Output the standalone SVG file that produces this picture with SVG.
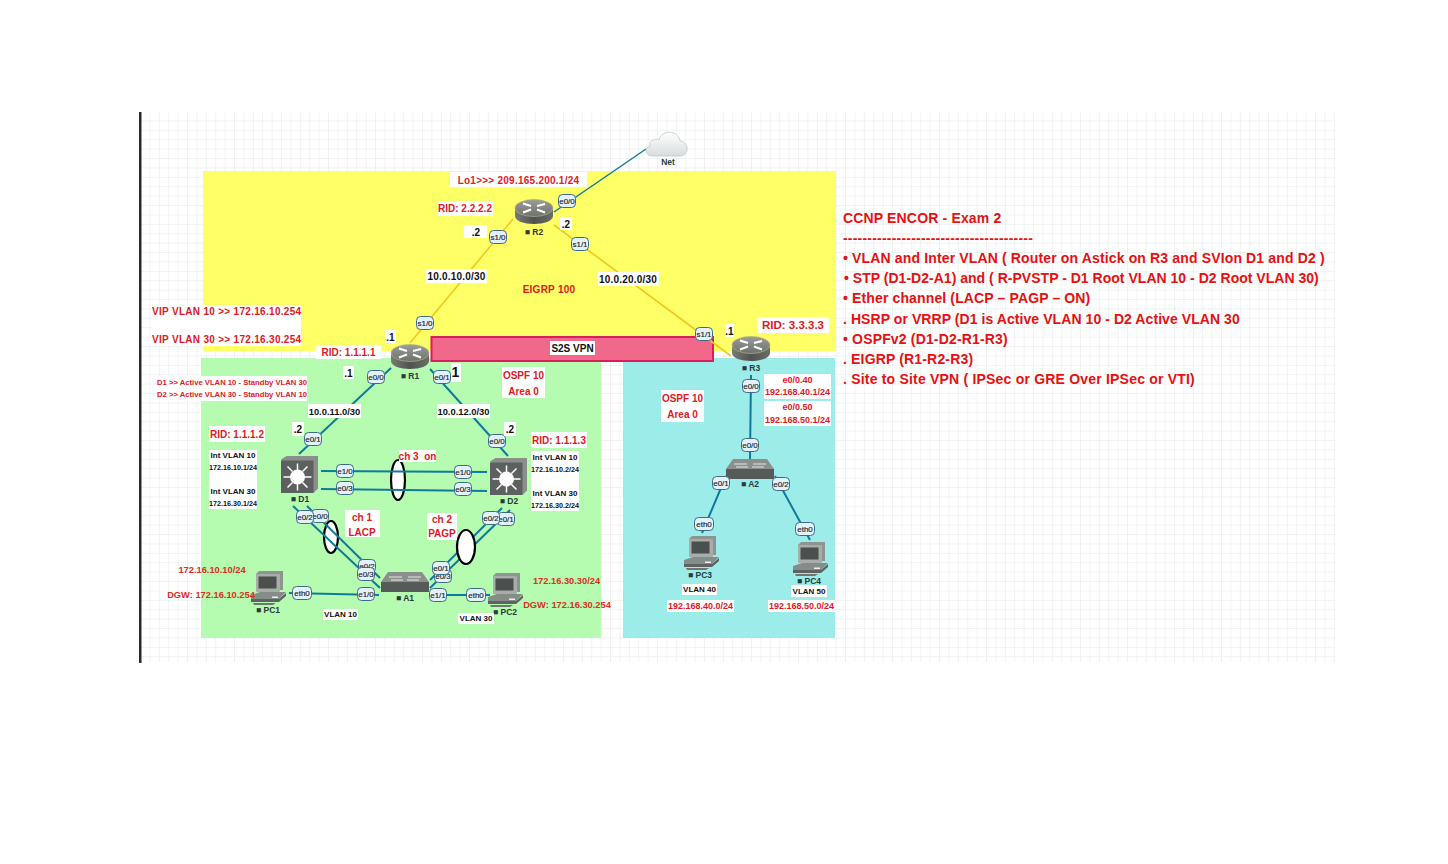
<svg xmlns="http://www.w3.org/2000/svg" width="1448" height="864" viewBox="0 0 1448 864">
<style>
text{font-family:"Liberation Sans",Arial,sans-serif;font-weight:700}
.r{fill:#e3171f;font-size:10px;text-anchor:middle;dominant-baseline:central}
.rs{letter-spacing:.25px}
.rl{fill:#e3171f;font-size:10px;dominant-baseline:central;letter-spacing:.3px}
.o{font-size:9.300px;fill:#dc2e22}
.m{font-size:9px}
.k{fill:#111;font-size:10px;text-anchor:middle;dominant-baseline:central}
.s{fill:#111;font-size:8px;text-anchor:middle;dominant-baseline:central}
.w{fill:#fff}
.t{fill:#e81010;font-size:14px;letter-spacing:.16px}
.n{fill:#2b3a3a;font-size:8.500px;text-anchor:middle;dominant-baseline:central}
.p{fill:#e2f1fb;stroke:#3d6b85;stroke-width:1}
.pt{fill:#222;font-size:8px;text-anchor:middle;dominant-baseline:central;font-weight:400;stroke:#222;stroke-width:.15}
.b{stroke:#0f7a9c;stroke-width:2;fill:none}
.y{stroke:#f2c81e;stroke-width:1.6;fill:none}
.ch{fill:#fff;stroke:#000;stroke-width:2.2}
</style>
<defs>
<pattern id="g" width="9.4" height="9.4" patternUnits="userSpaceOnUse" x="141" y="112"><path d="M9.4 0V9.4H0" fill="none" stroke="#e3e7e7" stroke-width="1"/></pattern>
<linearGradient id="rt" x1="0" y1="0" x2="0" y2="1"><stop offset="0" stop-color="#9a9d9a"/><stop offset="1" stop-color="#6d716e"/></linearGradient>
<linearGradient id="rb" x1="0" y1="0" x2="1" y2="0"><stop offset="0" stop-color="#777a77"/><stop offset=".5" stop-color="#4f5350"/><stop offset="1" stop-color="#6a6d6a"/></linearGradient>
<g id="router">
<path d="M-19-4V4C-19 9-10 12 0 12S19 9 19 4V-4Z" fill="url(#rb)"/>
<ellipse cx="0" cy="-4" rx="19" ry="8.500" fill="url(#rt)" stroke="#b9b27a" stroke-width=".7"/>
<path d="M-11-8.500L-3-6M11-8L3-6M-11 0.500L-3-2.500M11 0.500L3-2.500" stroke="#fff" stroke-width="2.200" fill="none"/>
</g>
<g id="l3">
<path d="M-18.500-15L-13-18.500H18.500V14L14 18.500Z" fill="#8b8f8c"/>
<rect x="-18.500" y="-14" width="32.500" height="32.500" fill="#5c605e"/>
<path d="M-2-4V-11M-2 9V16M-8 2.500H-16M4 2.500H12M-7-3L-12-8M3-3L8-8M-7 8L-12 13M3 8L8 13" stroke="#fff" stroke-width="1.500"/>
<circle cx="-2" cy="2.500" r="7.500" fill="#fff"/>
</g>
<g id="sw">
<path d="M-24 0L-17-10H17L24 0Z" fill="#8c908d"/>
<rect x="-24" y="0" width="48" height="10" fill="#565a58"/>
<path d="M-16-5H-3M3-5H16M-14-2H-2M2-2H14" stroke="#e4e6e4" stroke-width="1.200"/>
</g>
<g id="pc">
<path d="M-12-16L-9-19H15V0H-12Z" fill="#8e9491"/>
<rect x="-12" y="-16" width="24" height="18" rx="1" fill="#a8ada9"/>
<rect x="-9.500" y="-13.500" width="18" height="12" fill="#4b4f4d"/>
<path d="M-17 5L-8 2H18L11 9H-17Z" fill="#868c89"/>
<path d="M-17 9H11L18 3V6L11 12H-17Z" fill="#5e6361"/>
<rect x="4" y="6.500" width="6" height="1.500" fill="#eee"/>
<path d="M-15 13H8L5 15H-14Z" fill="#6f7572"/>
</g>
<linearGradient id="cl" x1="0" y1="0" x2="0" y2="1"><stop offset="0" stop-color="#fff"/><stop offset="1" stop-color="#d8dcdc"/></linearGradient>
</defs>

<rect x="141" y="112" width="1194" height="550" fill="url(#g)"/>
<rect x="139" y="112" width="2.500" height="551" fill="#2a2a2a"/>
<rect x="203" y="171" width="633" height="180" fill="#ffff66"/>
<rect x="201" y="358" width="400" height="280" fill="#b5fcb0"/>
<rect x="623" y="358" width="212" height="280" fill="#9cecea"/>
<rect x="431.500" y="337" width="281.500" height="24" fill="#f0688a" stroke="#d81e5b" stroke-width="2"/>

<ellipse class="ch" cx="398" cy="480" rx="7" ry="20"/>
<ellipse class="ch" cx="331" cy="537" rx="7" ry="16"/>

<g id="connectors">
<path class="b" d="M646 149L554 212" style="stroke-width:1.500"/>
<path class="y" d="M513 219L410 343"/>
<path class="y" d="M554 225L731 356"/>
<path class="b" d="M391 368L299 454"/>
<path class="b" d="M430 369L508 456"/>
<path class="b" d="M321 471L487 472"/>
<path class="b" d="M321 489L487 491"/>
<path class="b" d="M293 506L380 588"/>
<path class="b" d="M307 506L380 578"/>
<path class="b" d="M502 508L430 580"/>
<path class="b" d="M510 510L430 588"/>
<path class="b" d="M289 593L379 595"/>
<path class="b" d="M430 595L490 595"/>
<path class="b" d="M751 375L750 459"/>
<path class="b" d="M726 476L702 533"/>
<path class="b" d="M775 476L810 540"/>
</g>
<ellipse class="ch" cx="466" cy="547" rx="9" ry="17"/>

<g id="Net">
<path d="M652 156C645 156 644 148 650 146C648 141 655 138 659 140C661 130 678 129 680 141C689 141 690 156 680 156Z" fill="url(#cl)" stroke="#c3c8c8" stroke-width=".8"/>
<text class="n" x="668" y="162">Net</text>
</g>
<g id="R2"><use href="#router" x="534" y="212"/><text class="n" x="534" y="232">■ R2</text>
<g transform="translate(567 201)"><rect class="p" x="-8.500" y="-6.500" width="17" height="13" rx="4"/><text class="pt">e0/0</text></g>
<g transform="translate(498 237)"><rect class="p" x="-8.500" y="-6.500" width="17" height="13" rx="4"/><text class="pt">s1/0</text></g>
<g transform="translate(580 244)"><rect class="p" x="-8.500" y="-6.500" width="17" height="13" rx="4"/><text class="pt">s1/1</text></g>
</g>
<g id="R3"><use href="#router" x="751" y="349"/><text class="n" x="751" y="368">■ R3</text>
<g transform="translate(704 334)"><rect class="p" x="-8.500" y="-6.500" width="17" height="13" rx="4"/><text class="pt">s1/1</text></g>
<g transform="translate(751 386)"><rect class="p" x="-8.500" y="-6.500" width="17" height="13" rx="4"/><text class="pt">e0/0</text></g>
</g>
<g id="D1"><use href="#l3" x="299.500" y="474.500"/><text class="n" x="300" y="499">■ D1</text>
<g transform="translate(313 439)"><rect class="p" x="-8.500" y="-6.500" width="17" height="13" rx="4"/><text class="pt">e0/1</text></g>
<g transform="translate(345 471)"><rect class="p" x="-8.500" y="-6.500" width="17" height="13" rx="4"/><text class="pt">e1/0</text></g>
<g transform="translate(345 488)"><rect class="p" x="-8.500" y="-6.500" width="17" height="13" rx="4"/><text class="pt">e0/3</text></g>
<g transform="translate(320 516)"><rect class="p" x="-8.500" y="-6.500" width="17" height="13" rx="4"/><text class="pt">e0/0</text></g>
<g transform="translate(305 517)"><rect class="p" x="-8.500" y="-6.500" width="17" height="13" rx="4"/><text class="pt">e0/2</text></g>
</g>
<g id="D2"><use href="#l3" x="508.500" y="476.500"/><text class="n" x="509" y="501">■ D2</text>
<g transform="translate(497 441)"><rect class="p" x="-8.500" y="-6.500" width="17" height="13" rx="4"/><text class="pt">e0/0</text></g>
<g transform="translate(463 472)"><rect class="p" x="-8.500" y="-6.500" width="17" height="13" rx="4"/><text class="pt">e1/0</text></g>
<g transform="translate(463 489)"><rect class="p" x="-8.500" y="-6.500" width="17" height="13" rx="4"/><text class="pt">e0/3</text></g>
<g transform="translate(506 519)"><rect class="p" x="-8.500" y="-6.500" width="17" height="13" rx="4"/><text class="pt">e0/1</text></g>
<g transform="translate(491 518)"><rect class="p" x="-8.500" y="-6.500" width="17" height="13" rx="4"/><text class="pt">e0/2</text></g>
</g>
<g id="A1"><use href="#sw" x="405" y="582"/><text class="n" x="405" y="598">■ A1</text>
<g transform="translate(367 566)"><rect class="p" x="-8.500" y="-6.500" width="17" height="13" rx="4"/><text class="pt">e0/2</text></g>
<g transform="translate(366 574)"><rect class="p" x="-8.500" y="-6.500" width="17" height="13" rx="4"/><text class="pt">e0/3</text></g>
<g transform="translate(366 594)"><rect class="p" x="-8.500" y="-6.500" width="17" height="13" rx="4"/><text class="pt">e1/0</text></g>
<g transform="translate(443 576)"><rect class="p" x="-8.500" y="-6.500" width="17" height="13" rx="4"/><text class="pt">e0/3</text></g>
<g transform="translate(441 568)"><rect class="p" x="-8.500" y="-6.500" width="17" height="13" rx="4"/><text class="pt">e0/1</text></g>
<g transform="translate(438 595)"><rect class="p" x="-8.500" y="-6.500" width="17" height="13" rx="4"/><text class="pt">e1/1</text></g>
</g>
<g id="A2"><use href="#sw" x="750" y="469"/><text class="n" x="750" y="484">■ A2</text>
<g transform="translate(750 445)"><rect class="p" x="-8.500" y="-6.500" width="17" height="13" rx="4"/><text class="pt">e0/0</text></g>
<g transform="translate(721 483)"><rect class="p" x="-8.500" y="-6.500" width="17" height="13" rx="4"/><text class="pt">e0/1</text></g>
<g transform="translate(781 484)"><rect class="p" x="-8.500" y="-6.500" width="17" height="13" rx="4"/><text class="pt">e0/2</text></g>
</g>
<g id="PC1"><use href="#pc" x="268" y="590"/><text class="n" x="268" y="610">■ PC1</text>
<g transform="translate(302 593)"><rect class="p" x="-9.500" y="-6.500" width="19" height="13" rx="4"/><text class="pt">eth0</text></g>
</g>
<g id="PC2"><use href="#pc" x="505" y="592"/><text class="n" x="505" y="612">■ PC2</text>
<g transform="translate(476 595)"><rect class="p" x="-9.500" y="-6.500" width="19" height="13" rx="4"/><text class="pt">eth0</text></g>
</g>
<g id="PC3"><use href="#pc" x="701" y="555"/><text class="n" x="700" y="575">■ PC3</text>
<g transform="translate(704 524)"><rect class="p" x="-9.500" y="-6.500" width="19" height="13" rx="4"/><text class="pt">eth0</text></g>
</g>
<g id="PC4"><use href="#pc" x="810" y="561"/><text class="n" x="809" y="581">■ PC4</text>
<g transform="translate(805 529)"><rect class="p" x="-9.500" y="-6.500" width="19" height="13" rx="4"/><text class="pt">eth0</text></g>
</g>

<g id="labels">
<rect class="w" x="450" y="172" width="137" height="15"/><text class="r rs" x="518.500" y="180">Lo1&gt;&gt;&gt; 209.165.200.1/24</text>
<rect class="w" x="437" y="201" width="56" height="15"/><text class="r" x="465" y="208.500">RID: 2.2.2.2</text>
<rect class="w" x="464" y="225" width="23" height="13"/><text class="k" x="476" y="232">.2</text>
<rect class="w" x="560" y="217" width="12" height="13"/><text class="k" x="566" y="224">.2</text>
<rect class="w" x="426" y="269" width="61" height="14"/><text class="k" x="456.500" y="276.500" style="letter-spacing:.2px">10.0.10.0/30</text>
<rect class="w" x="598" y="272" width="61" height="14"/><text class="k" x="628" y="279" style="letter-spacing:.2px">10.0.20.0/30</text>
<text class="r rs" x="549" y="289">EIGRP 100</text>
<rect class="w" x="152" y="305" width="149" height="41"/>
<text class="rl" x="152" y="311.500">VIP VLAN 10 &gt;&gt; 172.16.10.254</text>
<text class="rl" x="152" y="339.500">VIP VLAN 30 &gt;&gt; 172.16.30.254</text>
<rect class="w" x="316" y="345" width="65" height="14"/><text class="r" x="348.500" y="352">RID: 1.1.1.1</text>
<rect class="w" x="385" y="330" width="11" height="13"/><text class="k" x="390.500" y="337">.1</text>
<rect class="w" x="343" y="366" width="11" height="13"/><text class="k" x="348.500" y="373">.1</text>
<rect class="w" x="451" y="363" width="10" height="19"/><text class="k" x="455.500" y="372" style="font-size:14px">1</text>
<rect class="w" x="502" y="367" width="43" height="31"/><text class="r" x="523.500" y="375.500">OSPF 10</text><text class="r" x="523.500" y="391">Area 0</text>
<rect class="w" x="157" y="376" width="150" height="25"/>
<text class="r" x="232" y="382" style="font-size:8px" textLength="150" lengthAdjust="spacingAndGlyphs">D1 &gt;&gt; Active VLAN 10 - Standby VLAN 30</text>
<text class="r" x="232" y="394" style="font-size:8px" textLength="150" lengthAdjust="spacingAndGlyphs">D2 &gt;&gt; Active VLAN 30 - Standby VLAN 10</text>
<rect class="w" x="308" y="404" width="53" height="14"/><text class="k" x="334.500" y="411" style="font-size:9.400px">10.0.11.0/30</text>
<rect class="w" x="437" y="404" width="53" height="14"/><text class="k" x="463.500" y="411" style="font-size:9.400px">10.0.12.0/30</text>
<rect class="w" x="292" y="422" width="12" height="14"/><text class="k" x="298" y="429">.2</text>
<rect class="w" x="504" y="422" width="12" height="14"/><text class="k" x="510" y="429">.2</text>
<rect class="w" x="209" y="426" width="56" height="16"/><text class="r" x="237" y="434.500">RID: 1.1.1.2</text>
<rect class="w" x="531" y="432" width="56" height="16"/><text class="r" x="559" y="440.500">RID: 1.1.1.3</text>
<rect class="w" x="209" y="450" width="48" height="59"/>
<text class="s" x="233" y="455">Int VLAN 10</text><text class="s" x="233" y="467" textLength="48" lengthAdjust="spacingAndGlyphs">172.16.10.1/24</text>
<text class="s" x="233" y="491">Int VLAN 30</text><text class="s" x="233" y="503" textLength="48" lengthAdjust="spacingAndGlyphs">172.16.30.1/24</text>
<rect class="w" x="531" y="451" width="48" height="60"/>
<text class="s" x="555" y="457">Int VLAN 10</text><text class="s" x="555" y="469" textLength="48" lengthAdjust="spacingAndGlyphs">172.16.10.2/24</text>
<text class="s" x="555" y="493">Int VLAN 30</text><text class="s" x="555" y="505" textLength="48" lengthAdjust="spacingAndGlyphs">172.16.30.2/24</text>
<rect class="w" x="399" y="450" width="37" height="12"/><text class="r" x="417.500" y="456" xml:space="preserve">ch 3  on</text>
<rect class="w" x="345" y="510" width="35" height="27"/><text class="r" x="362" y="517">ch 1</text><text class="r" x="362" y="532">LACP</text>
<rect class="w" x="427" y="513" width="30" height="27"/><text class="r" x="442" y="519.500">ch 2</text><text class="r" x="442" y="533">PAGP</text>
<text class="r o" x="212" y="570">172.16.10.10/24</text>
<text class="r o" x="211" y="595">DGW: 172.16.10.254</text>
<rect class="w" x="323" y="609" width="35" height="11"/><text class="s" x="340.500" y="614.500">VLAN 10</text>
<rect class="w" x="458" y="613" width="36" height="11"/><text class="s" x="476" y="618.500">VLAN 30</text>
<text class="r o" x="566.500" y="581">172.16.30.30/24</text>
<text class="r o" x="567" y="605">DGW: 172.16.30.254</text>
<rect class="w" x="550" y="341" width="45" height="14"/><text class="k" x="572.500" y="348">S2S VPN</text>
<rect class="w" x="757" y="317" width="72" height="16"/><text class="r" x="793" y="325" style="font-size:11.500px">RID: 3.3.3.3</text>
<rect class="w" x="725" y="324" width="9" height="13"/><text class="k" x="729.500" y="331">.1</text>
<rect class="w" x="661" y="390" width="43" height="32"/><text class="r" x="682.500" y="398.500">OSPF 10</text><text class="r" x="682.500" y="414">Area 0</text>
<rect class="w" x="764" y="374" width="67" height="25"/><text class="r m" x="797.500" y="380">e0/0.40</text><text class="r m" x="797.500" y="392">192.168.40.1/24</text>
<rect class="w" x="764" y="401" width="67" height="25"/><text class="r m" x="797.500" y="407">e0/0.50</text><text class="r m" x="797.500" y="420">192.168.50.1/24</text>
<rect class="w" x="682" y="584" width="35" height="11"/><text class="s" x="699.500" y="589.500">VLAN 40</text>
<rect class="w" x="791" y="585" width="36" height="12"/><text class="s" x="809" y="591">VLAN 50</text>
<rect class="w" x="667" y="600" width="67" height="12"/><text class="r m" x="700.500" y="606">192.168.40.0/24</text>
<rect class="w" x="768" y="600" width="67" height="12"/><text class="r m" x="801.500" y="606">192.168.50.0/24</text>
</g>
<g id="R1"><use href="#router" x="410" y="357"/><text class="n" x="410" y="376">■ R1</text>
<g transform="translate(425 323)"><rect class="p" x="-8.500" y="-6.500" width="17" height="13" rx="4"/><text class="pt">s1/0</text></g>
<g transform="translate(376 377)"><rect class="p" x="-8.500" y="-6.500" width="17" height="13" rx="4"/><text class="pt">e0/0</text></g>
<g transform="translate(442 377)"><rect class="p" x="-8.500" y="-6.500" width="17" height="13" rx="4"/><text class="pt">e0/1</text></g>
</g>
<g id="notes">
<text class="t" x="843" y="223">CCNP ENCOR - Exam 2</text>
<text class="t" x="843" y="243" style="letter-spacing:.21px">---------------------------------------</text>
<text class="t" x="843" y="263" style="letter-spacing:.145px">• VLAN and Inter VLAN ( Router on Astick on R3 and SVIon D1 and D2 )</text>
<text class="t" x="844" y="283" style="letter-spacing:.02px">• STP (D1-D2-A1) and ( R-PVSTP - D1 Root VLAN 10 - D2 Root VLAN 30)</text>
<text class="t" x="843" y="303" style="letter-spacing:.13px">• Ether channel (LACP – PAGP – ON)</text>
<text class="t" x="843" y="324" style="letter-spacing:.07px">. HSRP or VRRP (D1 is Active VLAN 10 - D2 Active VLAN 30</text>
<text class="t" x="843" y="344">• OSPFv2 (D1-D2-R1-R3)</text>
<text class="t" x="843" y="364">. EIGRP (R1-R2-R3)</text>
<text class="t" x="843" y="384" style="letter-spacing:.2px">. Site to Site VPN ( IPSec or GRE Over IPSec or VTI)</text>
</g>
</svg>
